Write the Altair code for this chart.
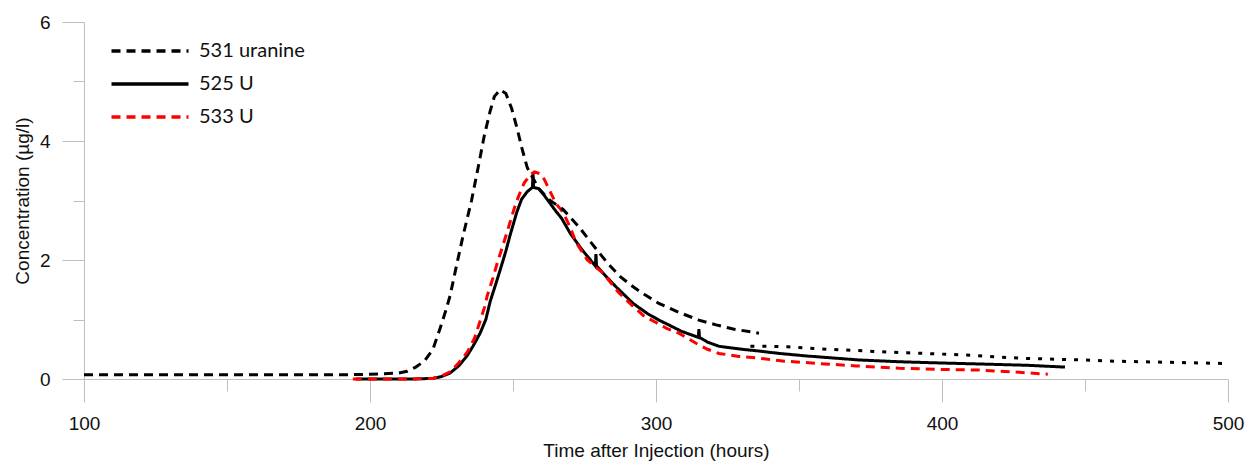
import altair as alt
import pandas as pd

series_names = ["531 uranine", "525 U", "533 U"]

# 531 uranine (black dashed), main part
t531 = [100, 110, 120, 130, 140, 150, 160, 170, 180, 190, 200, 205, 210, 213, 216, 219, 222,
        224.5, 226.5, 228, 230, 232.5, 235.5, 238, 240, 242, 243.5, 245.5, 247.5, 249.5, 251.5,
        253, 255, 259, 263, 267.5, 273, 278, 283, 287.5, 292, 296, 301, 308, 315, 321, 327, 336]
c531 = [0.07, 0.07, 0.07, 0.07, 0.07, 0.07, 0.07, 0.07, 0.07, 0.07, 0.08, 0.09, 0.1, 0.13, 0.2,
        0.3, 0.5, 0.85, 1.15, 1.4, 1.85, 2.4, 3.0, 3.6, 4.1, 4.5, 4.75, 4.86, 4.8, 4.55, 4.2,
        3.9, 3.55, 3.2, 3.0, 2.85, 2.56, 2.25, 1.95, 1.72, 1.55, 1.42, 1.27, 1.12, 0.99, 0.91,
        0.84, 0.77]

# 531 uranine, sparse later part
t531b = [333, 340, 346, 353, 360, 370, 378, 388, 399, 410, 420, 427, 434, 441, 450, 460, 470,
         480, 490, 499]
c531b = [0.55, 0.55, 0.54, 0.52, 0.50, 0.48, 0.46, 0.44, 0.42, 0.40, 0.37, 0.35, 0.34, 0.33,
         0.32, 0.30, 0.29, 0.28, 0.27, 0.26]

# 525 U (black solid)
t525 = [195, 205, 215, 222, 225, 228, 231, 233.8, 236, 238.5, 240.5, 242, 244, 245.5, 247.5,
        249, 251.3, 253, 255, 256.8, 257, 257.2, 259, 261, 263, 265, 267, 270, 274, 278.8, 279,
        279.2, 283, 286, 292, 297, 301, 304, 309, 314.8, 315, 315.2, 318, 322, 330, 336, 343,
        352, 360, 371, 385, 399, 415, 430, 443]
c525 = [0, 0, 0, 0.01, 0.04, 0.1, 0.22, 0.38, 0.55, 0.77, 1.0, 1.3, 1.6, 1.83, 2.15, 2.42, 2.8,
        3.02, 3.15, 3.22, 3.45, 3.22, 3.2, 3.08, 2.95, 2.82, 2.7, 2.45, 2.18, 1.9, 2.1, 1.9, 1.7,
        1.55, 1.27, 1.1, 0.99, 0.92, 0.8, 0.7, 0.84, 0.7, 0.62, 0.55, 0.5, 0.47, 0.43, 0.39,
        0.36, 0.32, 0.29, 0.27, 0.25, 0.23, 0.2]

# 533 U (red dashed)
t533 = [194, 205, 215, 222, 225, 228, 231, 234, 236.5, 238, 240, 241, 243, 244.5, 246.5, 247.8,
        250, 251, 253, 254, 256, 257.5, 259.5, 261, 263, 265, 267.5, 270, 272, 276, 281.5, 287,
        292, 296, 300, 303.7, 308, 314, 318, 322, 329, 336, 345, 357, 370, 385, 400, 413, 425,
        437]
c533 = [0, 0, 0, 0.01, 0.05, 0.12, 0.27, 0.45, 0.68, 0.9, 1.2, 1.4, 1.7, 1.95, 2.25, 2.45, 2.8,
        2.95, 3.2, 3.3, 3.43, 3.48, 3.45, 3.35, 3.15, 2.95, 2.8, 2.55, 2.3, 2.0, 1.78, 1.45, 1.22,
        1.05, 0.95, 0.85, 0.77, 0.6, 0.5, 0.43, 0.38, 0.35, 0.3, 0.26, 0.22, 0.18, 0.16, 0.15,
        0.12, 0.08]

x_ticks = [100, 150, 200, 250, 300, 350, 400, 450, 500]
y_ticks = [0, 1, 2, 3, 4, 5, 6]

df = pd.concat([
    pd.DataFrame({"t": t531, "c": c531, "s": "531 uranine"}),
    pd.DataFrame({"t": t525, "c": c525, "s": "525 U"}),
    pd.DataFrame({"t": t533, "c": c533, "s": "533 U"}),
], ignore_index=True)
df_tail = pd.DataFrame({"t": t531b, "c": c531b})

x_enc = alt.X("t:Q", title="Time after Injection (hours)",
              scale=alt.Scale(domain=[100, 500], nice=False, zero=False),
              axis=alt.Axis(values=x_ticks,
                            labelExpr="datum.value % 100 === 0 ? datum.label : ''",
                            tickSize={"condition": {"test": "datum.value % 100 === 0", "value": 23}, "value": 12},
                            labelAlign="center", labelFlush=False, labelBound=False,
                            labelPadding=12, titleY=71, titleBaseline="middle"))
y_enc = alt.Y("c:Q", title="Concentration (µg/l)",
              scale=alt.Scale(domain=[0, 6], nice=False),
              axis=alt.Axis(values=y_ticks,
                            labelExpr="datum.value % 2 === 0 ? datum.label : ''",
                            tickSize={"condition": {"test": "datum.value % 2 === 0", "value": 22}, "value": 11},
                            labelFlush=False, labelBound=False,
                            labelPadding=12, titleX=-62, titleY=178.5, titleAngle=270,
                            titleBaseline="middle"))

legend = alt.Legend(title=None, orient="none", legendX=54, legendY=17, symbolType="M-3.85,0H3.85",
                    symbolSize=400, symbolStrokeWidth=3.5, labelFont="Lato", labelFontSize=20,
                    labelColor="#111111", labelOffset=37, rowPadding=11, padding=0)
color_enc = alt.Color("s:N", scale=alt.Scale(domain=series_names, range=["#000000", "#000000", "#ff0000"]),
                      legend=legend)
dash_enc = alt.StrokeDash("s:N", scale=alt.Scale(domain=series_names, range=[[9, 6], [1, 0], [9, 6]]),
                          legend=legend)

base = alt.Chart(df).mark_line(strokeWidth=3).encode(x=x_enc, y=y_enc, color=color_enc, strokeDash=dash_enc)
l525 = base.transform_filter(alt.datum.s == "525 U")
l533 = base.transform_filter(alt.datum.s == "533 U")
l531 = base.transform_filter(alt.datum.s == "531 uranine")
ltail = alt.Chart(df_tail).mark_line(strokeWidth=3).encode(
    x=x_enc, y=y_enc, color=alt.value("#000000"), strokeDash=alt.value([4, 8]))

chart = alt.layer(l525, l533, l531, ltail).properties(
    width=1144, height=357,
    padding={"left": 84, "top": 22, "right": 19, "bottom": 82},
    autosize=alt.AutoSizeParams(type="none"),
    background="white",
).configure_view(stroke=None).configure_axis(
    grid=False, domainColor="#bfbfbf", tickColor="#bfbfbf", domainWidth=1, tickWidth=1,
    labelFont="Liberation Sans", labelFontSize=19, labelColor="#111111",
    titleFont="Liberation Sans", titleFontSize=19, titleFontWeight="normal", titleColor="#111111",
)

chart.save("out.html", embed_options={"renderer": "svg", "actions": False})
